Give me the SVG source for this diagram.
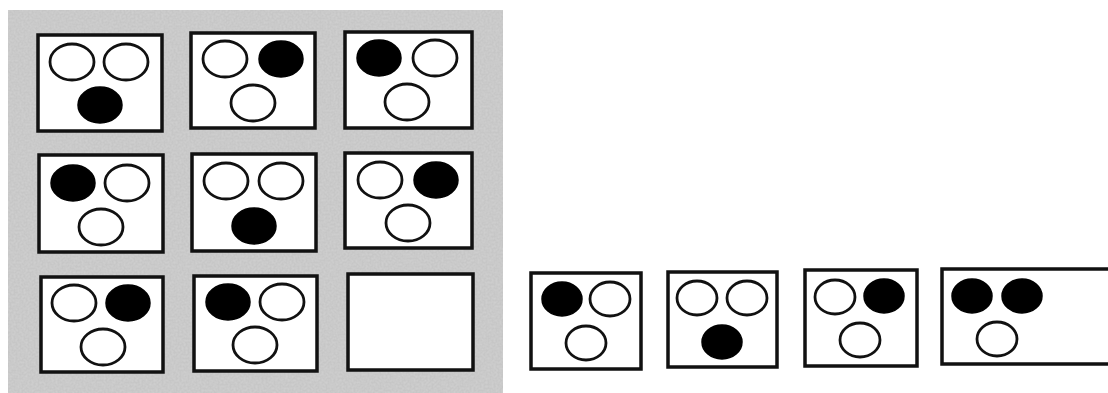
<svg xmlns="http://www.w3.org/2000/svg" width="1108" height="393" viewBox="0 0 1108 393">
<defs>
<filter id="grain" x="0" y="0" width="100%" height="100%">
<feTurbulence type="fractalNoise" baseFrequency="0.5" numOctaves="2" seed="7" result="n"/>
<feColorMatrix in="n" type="matrix" values="0 0 0 0 0.62  0 0 0 0 0.62  0 0 0 0 0.62  0 0 0 -2 1.4" result="g"/>
<feComposite in="g" in2="SourceGraphic" operator="in"/>
</filter>
</defs>
<style>
.box{fill:#fff;stroke:#111;stroke-width:3.5}
.o{fill:#fff;stroke:#111;stroke-width:2.8}
.f{fill:#000;stroke:#000;stroke-width:1.5}
</style>
<rect x="0" y="0" width="1108" height="393" fill="#fff"/>
<g id="panel">
<rect x="8" y="10" width="495" height="383" fill="#c6c6c6"/>
<rect x="8" y="10" width="495" height="383" fill="#c6c6c6" filter="url(#grain)"/>
</g>
<g id="cell1">
<rect class="box" x="38" y="35" width="124" height="96"/>
<ellipse class="o" cx="72" cy="62" rx="22" ry="18"/>
<ellipse class="o" cx="126" cy="62" rx="22" ry="18"/>
<ellipse class="f" cx="100" cy="105" rx="22" ry="18"/>
</g>
<g id="cell2">
<rect class="box" x="191" y="33" width="124" height="95"/>
<ellipse class="o" cx="225" cy="59" rx="22" ry="18"/>
<ellipse class="f" cx="281" cy="59" rx="22" ry="18"/>
<ellipse class="o" cx="253" cy="103" rx="22" ry="18"/>
</g>
<g id="cell3">
<rect class="box" x="345" y="32" width="127" height="96"/>
<ellipse class="f" cx="379" cy="58" rx="22" ry="18"/>
<ellipse class="o" cx="435" cy="58" rx="22" ry="18"/>
<ellipse class="o" cx="407" cy="102" rx="22" ry="18"/>
</g>
<g id="cell4">
<rect class="box" x="39" y="155" width="124" height="97"/>
<ellipse class="f" cx="73" cy="183" rx="22" ry="18"/>
<ellipse class="o" cx="127" cy="183" rx="22" ry="18"/>
<ellipse class="o" cx="101" cy="227" rx="22" ry="18"/>
</g>
<g id="cell5">
<rect class="box" x="192" y="154" width="124" height="97"/>
<ellipse class="o" cx="226" cy="181" rx="22" ry="18"/>
<ellipse class="o" cx="281" cy="181" rx="22" ry="18"/>
<ellipse class="f" cx="254" cy="226" rx="22" ry="18"/>
</g>
<g id="cell6">
<rect class="box" x="345" y="153" width="127" height="95"/>
<ellipse class="o" cx="380" cy="180" rx="22" ry="18"/>
<ellipse class="f" cx="436" cy="180" rx="22" ry="18"/>
<ellipse class="o" cx="408" cy="223" rx="22" ry="18"/>
</g>
<g id="cell7">
<rect class="box" x="41" y="277" width="122" height="95"/>
<ellipse class="o" cx="74" cy="303" rx="22" ry="18"/>
<ellipse class="f" cx="128" cy="303" rx="22" ry="18"/>
<ellipse class="o" cx="103" cy="347" rx="22" ry="18"/>
</g>
<g id="cell8">
<rect class="box" x="194" y="276" width="123" height="95"/>
<ellipse class="f" cx="228" cy="302" rx="22" ry="18"/>
<ellipse class="o" cx="282" cy="302" rx="22" ry="18"/>
<ellipse class="o" cx="255" cy="345" rx="22" ry="18"/>
</g>
<g id="cell9">
<rect class="box" x="348" y="274" width="125" height="96"/>
</g>
<g id="option1">
<rect class="box" x="531" y="273" width="110" height="96"/>
<ellipse class="f" cx="562" cy="299" rx="20" ry="17"/>
<ellipse class="o" cx="610" cy="299" rx="20" ry="17"/>
<ellipse class="o" cx="586" cy="343" rx="20" ry="17"/>
</g>
<g id="option2">
<rect class="box" x="668" y="272" width="109" height="95"/>
<ellipse class="o" cx="697" cy="298" rx="20" ry="17"/>
<ellipse class="o" cx="747" cy="298" rx="20" ry="17"/>
<ellipse class="f" cx="722" cy="342" rx="20" ry="17"/>
</g>
<g id="option3">
<rect class="box" x="805" y="270" width="112" height="96"/>
<ellipse class="o" cx="835" cy="297" rx="20" ry="17"/>
<ellipse class="f" cx="884" cy="296" rx="20" ry="17"/>
<ellipse class="o" cx="860" cy="340" rx="20" ry="17"/>
</g>
<g id="option4">
<rect class="box" x="942" y="269" width="172" height="95"/>
<ellipse class="f" cx="972" cy="296" rx="20" ry="17"/>
<ellipse class="f" cx="1022" cy="296" rx="20" ry="17"/>
<ellipse class="o" cx="997" cy="339" rx="20" ry="17"/>
</g>
</svg>
